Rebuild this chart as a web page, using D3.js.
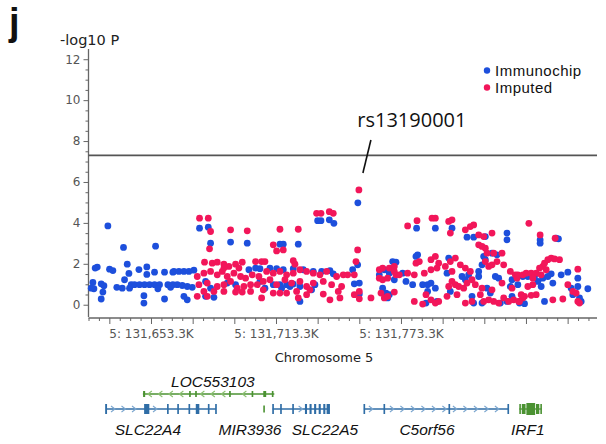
<!DOCTYPE html>
<html>
<head>
<meta charset="utf-8">
<script src="https://d3js.org/d3.v7.min.js"></script>
<style>
  body { margin: 0; background: #fff; }
  svg { display: block; }
</style>
</head>
<body>
<div id="winArea"></div>
<script>
// -log10 P values along chromosome 5 (positions in kb)
const immunochip = [
  [131632.6,3.85],[131640.1,2.80],[131655.5,2.86],[131627.5,1.84],[131626.5,1.79],[131633.4,1.74],[131635.0,1.67],[131641.9,1.98],
  [131642.7,1.53],[131647.5,1.72],[131651.3,1.85],[131651.3,1.48],[131655.0,1.59],[131659.8,1.59],[131663.8,1.59],[131625.4,1.09],
  [131629.4,1.02],[131630.7,0.93],[131625.9,0.78],[131624.6,0.81],[131630.2,0.62],[131629.4,0.28],[131636.9,0.85],[131639.5,0.81],
  [131640.6,1.22],[131643.0,0.81],[131643.8,0.98],[131645.4,0.98],[131647.8,0.98],[131650.2,0.98],[131652.6,0.98],[131655.0,0.98],
  [131657.4,0.98],[131656.6,0.78],[131649.9,0.44],[131649.9,0.08],[131659.8,0.28],[131661.4,0.98],[131662.7,0.85],[131663.8,0.98],
  [131676.6,3.74],[131680.8,3.79],[131681.9,3.01],[131691.5,3.06],[131699.5,3.01],[131664.3,1.63],[131666.7,1.63],[131669.1,1.63],
  [131671.5,1.63],[131673.9,1.69],[131665.9,0.98],[131668.3,0.94],[131670.7,0.89],[131673.1,0.85],[131670.7,0.24],[131669.1,0.41],
  [131679.5,0.41],[131683.5,0.36],[131689.9,1.06],[131700.3,1.71],[131703.5,1.79],[131679.5,1.14],[131693.9,0.98],[131681.9,0.81],
  [131733.3,4.11],[131734.9,4.11],[131738.9,4.15],[131741.1,3.98],[131715.2,2.96],[131716.8,2.96],[131724.0,2.96],[131705.6,1.76],
  [131710.4,1.79],[131713.6,1.76],[131716.8,1.71],[131721.6,1.76],[131726.4,1.71],[131731.2,1.63],[131735.2,1.63],[131739.2,1.67],
  [131740.8,1.51],[131715.2,0.98],[131718.4,0.98],[131720.0,0.89],[131721.6,1.01],[131724.8,0.89],[131716.0,0.81],[131712.0,0.98],
  [131732.0,0.98],[131730.4,0.73],[131724.8,0.16],[131705.6,1.14],[131708.0,0.81],
  [131752.6,4.98],[131752.5,1.95],[131750.1,1.71],[131750.9,1.02],[131753.3,1.06],[131753.3,0.52],[131780.8,3.74],[131762.9,1.46],
  [131765.3,1.71],[131769.3,2.11],[131770.9,2.08],[131774.1,1.54],[131775.7,1.14],[131778.9,0.98],[131780.5,2.36],[131781.3,2.44],
  [131783.7,0.98],[131786.1,0.98],[131787.7,1.06],[131767.7,1.54],[131770.1,1.22],[131764.5,0.81],[131766.1,0.57],[131766.9,0.33],
  [131767.7,0.49],[131785.3,0.08],[131786.1,0.65],
  [131789.8,3.74],[131797.8,3.74],[131805.0,3.30],[131808.2,3.30],[131813.8,3.33],[131824.2,3.50],[131824.2,3.17],[131813.0,2.36],
  [131813.8,2.20],[131817.0,2.52],[131819.4,2.44],[131812.2,1.95],[131796.2,2.28],[131795.4,1.54],[131802.6,1.38],[131804.2,1.22],
  [131805.8,1.46],[131818.6,1.38],[131820.2,1.30],[131810.6,1.38],[131810.6,1.63],[131826.6,1.22],[131825.8,0.89],[131789.8,0.81],
  [131797.0,0.65],[131814.6,0.81],[131816.2,0.57],[131807.4,0.41],[131826.6,0.41],[131824.2,0.16],[131790.6,0.16],[131812.2,0.08],
  [131808.2,0.08],[131821.0,0.08],
  [131840.1,3.17],[131840.1,3.01],[131847.8,3.25],[131848.9,3.22],[131829.4,0.98],[131831.8,1.38],[131834.2,1.38],[131837.4,1.38],
  [131839.0,1.14],[131841.4,1.30],[131843.8,1.38],[131845.4,1.51],[131850.2,1.46],[131853.4,1.59],[131858.2,1.30],[131846.2,1.06],
  [131858.2,0.89],[131863.0,0.78],[131855.0,0.81],[131855.8,0.49],[131859.0,0.33],[131859.8,0.16],[131830.2,0.08],[131832.6,0.05],
  [131842.2,0.16],[131840.6,0.89]
];

const imputed = [
  [131676.6,4.23],[131680.8,4.23],[131681.9,3.58],[131691.5,3.66],[131699.5,3.61],[131681.4,2.73],[131679.0,2.08],[131682.7,2.03],
  [131685.1,2.08],[131688.3,1.98],[131690.7,1.87],[131693.9,1.98],[131697.1,2.08],[131703.5,2.11],[131675.5,1.38],[131678.7,1.54],
  [131681.9,1.63],[131685.1,1.46],[131687.5,1.63],[131689.9,1.38],[131693.1,1.54],[131696.3,1.38],[131698.7,1.30],[131701.9,1.46],
  [131705.1,1.38],[131676.3,0.98],[131680.3,1.06],[131685.1,0.89],[131688.3,0.98],[131691.5,1.14],[131694.7,0.81],[131697.9,0.89],
  [131701.1,0.98],[131704.3,0.98],[131678.7,0.65],[131683.5,0.65],[131688.3,0.65],[131693.9,0.62],[131697.1,0.62],[131675.5,0.41],
  [131680.3,0.41],[131701.1,0.65],[131688.3,1.79],[131695.5,1.79],
  [131732.8,4.47],[131734.9,4.47],[131738.9,4.55],[131740.8,4.47],[131715.2,3.69],[131724.0,3.69],[131712.0,2.93],[131713.6,2.63],
  [131716.8,2.68],[131706.4,2.11],[131708.0,2.11],[131721.6,2.15],[131722.4,1.98],[131708.8,1.63],[131712.0,1.54],[131715.2,1.63],
  [131718.4,1.46],[131721.6,1.54],[131724.8,1.71],[131728.0,1.63],[131731.2,1.54],[131734.4,1.46],[131737.6,1.63],[131742.4,1.38],
  [131745.6,1.46],[131707.2,1.14],[131710.4,1.22],[131713.6,0.98],[131717.6,1.22],[131720.8,1.06],[131724.8,1.14],[131728.0,0.89],
  [131731.2,1.06],[131736.0,1.14],[131740.0,0.98],[131744.8,0.89],[131707.2,0.73],[131712.0,0.57],[131715.2,0.57],[131718.4,0.57],
  [131723.2,0.65],[131728.0,0.49],[131729.6,0.73],[131736.0,0.52],[131739.2,0.24],[131744.0,0.33],[131743.2,0.65],[131706.4,0.33],
  [131724.0,0.33],
  [131753.1,5.61],[131752.5,2.68],[131751.7,2.11],[131747.7,1.46],[131750.9,1.46],[131753.3,0.65],[131750.9,0.49],[131753.3,0.29],
  [131758.9,0.33],[131781.0,4.11],[131776.5,3.85],[131788.2,4.23],[131762.9,1.71],[131764.5,1.79],[131767.7,1.79],[131770.1,1.87],
  [131770.1,1.63],[131770.9,1.46],[131762.9,1.30],[131764.5,1.22],[131766.9,1.30],[131772.5,1.46],[131776.5,1.54],[131780.5,2.03],
  [131782.1,2.11],[131779.7,1.46],[131784.5,1.54],[131787.7,2.20],[131787.7,1.71],[131763.7,0.57],[131765.3,0.33],[131766.9,0.41],
  [131770.1,0.62],[131779.7,0.16],[131785.3,0.49],[131787.7,0.24],[131783.7,0.03],
  [131789.8,4.23],[131796.2,4.07],[131797.8,4.15],[131797.0,3.50],[131804.2,3.66],[131806.6,3.82],[131808.2,3.90],[131810.6,3.41],
  [131813.0,3.33],[131817.0,3.50],[131810.6,2.93],[131812.2,2.85],[131813.8,2.76],[131814.6,2.52],[131817.8,2.52],[131821.8,2.52],
  [131789.8,2.36],[131791.4,2.03],[131797.0,2.11],[131794.6,1.87],[131799.4,2.28],[131801.8,1.95],[131804.2,1.79],[131806.6,1.63],
  [131813.8,2.11],[131815.4,1.87],[131817.0,1.95],[131819.4,2.11],[131822.6,1.95],[131825.8,1.63],[131828.2,1.46],[131829.0,1.30],
  [131790.6,1.79],[131797.8,1.63],[131797.8,1.14],[131799.4,0.98],[131801.0,0.89],[131803.4,0.81],[131805.0,1.06],[131807.4,1.22],
  [131796.2,0.89],[131795.4,0.41],[131800.2,0.49],[131804.2,0.08],[131807.4,0.16],[131811.4,0.49],[131813.0,0.16],[131815.4,0.24],
  [131817.8,0.16],[131820.2,0.08],[131822.6,0.33],[131825.0,0.16],[131827.4,0.24],[131829.8,0.16],[131791.4,0.16],[131789.8,0.08],
  [131809.0,0.98],[131812.2,0.81],[131817.0,0.73],[131821.8,1.06],[131826.6,0.81],
  [131834.7,3.98],[131840.1,3.41],[131847.3,3.25],[131841.4,1.87],[131842.2,2.03],[131843.8,2.20],[131845.4,2.28],[131847.0,2.24],
  [131849.4,2.20],[131843.0,1.71],[131839.8,1.79],[131829.4,1.46],[131831.8,1.46],[131833.4,1.54],[131835.8,1.54],[131838.2,1.54],
  [131840.6,1.46],[131836.6,1.30],[131858.2,1.74],[131857.4,0.57],[131855.8,0.65],[131853.4,0.98],[131836.6,0.98],[131834.2,0.89],
  [131838.2,0.49],[131835.8,0.46],[131832.6,0.41],[131831.0,0.49],[131831.8,0.33],[131846.2,0.24],[131851.0,0.28],[131858.2,0.16],
  [131859.0,0.08],[131830.2,0.16]
];

const seriesNames = ["Immunochip", "Imputed"];
const gwThreshold = 7.3;
const topSnp = { name: "rs13190001", pos: 131753.1, logp: 5.61 };

// axis ticks (kb)
const xMajorTicks = [131633.3,131653.3,131673.3,131693.3,131713.3,131733.3,131753.3,131773.3,131793.3,131813.3,131833.3,131853.3];
const xLabelTicks = [131653.3, 131713.3, 131773.3];
const yMajorTicks = [0, 2, 4, 6, 8, 10, 12];

// gene track
const geneNames  = ["SLC22A4", "LOC553103", "MIR3936", "SLC22A5", "C5orf56", "IRF1"];
const geneType   = ["coding", "noncoding", "noncoding", "coding", "coding", "noncoding"];
const geneRow    = [1, 0, 1, 1, 1, 1];
const geneStrand = ["+", "-", "+", "+", "+", "+"];
const geneStart  = [131631.7, 131649.4, 131707.2, 131711.7, 131755.5, 131830.1];
const geneEnd    = [131684.5, 131712.5, 131707.8, 131738.9, 131824.8, 131840.9];
const geneLabelPos = [131651.8, 131683.0, 131700.8, 131736.8, 131785.8, 131834.2];
const geneExons = [
  [[131631.3,131632.2],[131650.0,131652.5],[131661.0,131661.8],[131665.9,131666.7],[131671.3,131672.1],[131674.8,131676.5],[131680.6,131681.4],[131684.1,131684.9]],
  [[131649.5,131650.5],[131671.6,131672.4],[131674.5,131675.3],[131690.8,131691.6],[131701.6,131702.4],[131707.2,131708.6],[131711.3,131712.1]],
  [[131707.2,131707.9]],
  [[131711.5,131712.3],[131715.3,131716.1],[131721.1,131721.9],[131727.2,131728.2],[131729.4,131730.4],[131731.6,131732.6],[131733.8,131734.8],[131736.0,131737.0],[131737.6,131739.2]],
  [[131755.3,131756.1],[131764.9,131765.7],[131796.1,131796.9],[131824.4,131825.2]],
  [[131830.1,131830.8],[131831.3,131833.1],[131833.5,131837.7],[131838.1,131839.7],[131840.2,131840.9]]
];

drawChart();

function drawChart() {
  const W = 606, H = 444;
  const plot = { left: 88.5, right: 597, top: 49, bottom: 317 };
  const axisFont = "DejaVu Sans, Verdana, sans-serif";

  const svg = d3.select("#winArea")
    .append("svg")
    .attr("width", W)
    .attr("height", H);

  const xScale = d3.scaleLinear()
    .domain([131623.3, 131867.4])
    .range([plot.left, plot.right]);

  const yScale = d3.scaleLinear()
    .domain([-0.6, 12.5])
    .range([plot.bottom, plot.top]);

  const cScale = d3.scaleOrdinal()
    .domain(seriesNames)
    .range(["#1d4fdc", "#f2165a"]);

  // panel letter
  svg.append("text")
    .attr("x", 9).attr("y", 35)
    .style("font-family", "Liberation Sans, Arial, sans-serif")
    .style("font-weight", "bold")
    .style("font-size", "38px")
    .style("fill", "#111")
    .text("j");

  // y axis title
  svg.append("text")
    .attr("x", 60).attr("y", 45)
    .style("font-family", axisFont)
    .style("font-size", "14.5px")
    .style("fill", "#222")
    .text("-log10 P");

  // y axis: major ticks with labels, minor ticks every 0.5
  const yAxis = svg.append("g")
    .attr("transform", `translate(${plot.left},0)`)
    .call(d3.axisLeft(yScale).tickValues(yMajorTicks).tickSize(5).tickPadding(3).tickFormat(d3.format("d")));
  const yMinor = d3.range(0.5, 12.5, 0.5).filter(v => v % 2 !== 0);
  svg.append("g")
    .attr("transform", `translate(${plot.left},0)`)
    .call(d3.axisLeft(yScale).tickValues(yMinor).tickSize(3).tickFormat(""))
    .select(".domain").remove();
  yAxis.select(".domain").attr("d", `M0,${plot.top}V${plot.bottom}`);

  // x axis
  const xAxis = svg.append("g")
    .attr("transform", `translate(0,${plot.bottom + 1})`)
    .call(d3.axisBottom(xScale).tickValues(xMajorTicks).tickSize(6).tickPadding(5)
      .tickFormat(d => xLabelTicks.some(t => Math.abs(t - d) < 0.01) ? "5: " + d3.format(",.1f")(d) + "K" : ""));
  const xMinor = d3.range(131623.3, 131867.4, 5).filter(v => !xMajorTicks.some(t => Math.abs(t - v) < 0.01));
  svg.append("g")
    .attr("transform", `translate(0,${plot.bottom + 1})`)
    .call(d3.axisBottom(xScale).tickValues(xMinor).tickSize(3).tickFormat(""))
    .select(".domain").remove();
  xAxis.select(".domain").attr("d", `M${plot.left},0H${plot.right}`);

  svg.selectAll(".domain").attr("stroke", "#666").attr("stroke-width", 1.3);
  svg.selectAll(".tick line").attr("stroke", "#666");
  svg.selectAll(".tick text")
    .style("font-family", axisFont)
    .style("font-size", "12px")
    .style("fill", "#555");

  // x axis title
  svg.append("text")
    .attr("x", 324).attr("y", 362)
    .attr("text-anchor", "middle")
    .style("font-family", axisFont)
    .style("font-size", "13px")
    .style("fill", "#222")
    .text("Chromosome 5");

  // genome-wide threshold
  svg.append("line")
    .attr("x1", plot.left).attr("x2", plot.right)
    .attr("y1", yScale(gwThreshold)).attr("y2", yScale(gwThreshold))
    .attr("stroke", "#555")
    .attr("stroke-width", 1.6);

  // points: immunochip first, imputed on top
  svg.append("g").selectAll("circle")
    .data(immunochip)
    .join("circle")
    .attr("cx", d => xScale(d[0]))
    .attr("cy", d => yScale(d[1]))
    .attr("r", 3.4)
    .attr("fill", cScale("Immunochip"));

  svg.append("g").selectAll("circle")
    .data(imputed)
    .join("circle")
    .attr("cx", d => xScale(d[0]))
    .attr("cy", d => yScale(d[1]))
    .attr("r", 3.4)
    .attr("fill", cScale("Imputed"));

  // top SNP annotation
  const sx = xScale(topSnp.pos), sy = yScale(topSnp.logp);
  svg.append("line")
    .attr("x1", sx + 4).attr("y1", sy - 17)
    .attr("x2", sx + 12).attr("y2", sy - 50)
    .attr("stroke", "#111")
    .attr("stroke-width", 1.6);
  svg.append("text")
    .attr("x", sx + 53).attr("y", sy - 63)
    .attr("text-anchor", "middle")
    .style("font-family", "Open Sans, Liberation Sans, sans-serif")
    .style("font-size", "20px")
    .style("fill", "#111")
    .text(topSnp.name);

  // legend
  const legend = svg.append("g")
    .attr("transform", "translate(487,70.5)");
  const item = legend.selectAll("g")
    .data(seriesNames)
    .join("g")
    .attr("transform", (d, i) => `translate(0,${i * 17})`);
  item.append("circle")
    .attr("r", 3.2)
    .attr("fill", cScale);
  item.append("text")
    .attr("x", 8).attr("y", 5.5)
    .style("font-family", "Liberation Sans, Arial, sans-serif")
    .style("font-size", "15px")
    .style("letter-spacing", "0.5px")
    .style("fill", "#111")
    .text(d => d);

  // gene track
  const rowY = [394, 409];
  const gColor = d3.scaleOrdinal().domain(["coding", "noncoding"]).range(["#2f6da6", "#4b9232"]);
  const gLight = d3.scaleOrdinal().domain(["coding", "noncoding"]).range(["#7ba6cf", "#8cc070"]);
  const track = svg.append("g");

  geneNames.forEach((name, i) => {
    const y = rowY[geneRow[i]];
    const col = gColor(geneType[i]);
    const light = gLight(geneType[i]);
    const x1 = xScale(geneStart[i]), x2 = xScale(geneEnd[i]);
    const exH = geneRow[i] === 0 ? 6 : (name === "MIR3936" ? 7 : 10);

    if (x2 - x1 > 3) {
      track.append("line")
        .attr("x1", x1).attr("x2", x2)
        .attr("y1", y).attr("y2", y)
        .attr("stroke", col)
        .attr("stroke-width", 1.3);

      // strand chevrons in gaps between exons
      const ex = geneExons[i].map(e => [xScale(e[0]), xScale(e[1])]);
      const dir = geneStrand[i] === "+" ? 1 : -1;
      for (let cx = x1 + 7; cx < x2 - 4; cx += 10.5) {
        if (ex.some(e => cx > e[0] - 4 && cx < e[1] + 4)) continue;
        track.append("path")
          .attr("d", `M${cx - 2 * dir},${y - 3}L${cx + 2 * dir},${y}L${cx - 2 * dir},${y + 3}`)
          .attr("fill", "none")
          .attr("stroke", light)
          .attr("stroke-width", 1.1);
      }
    }

    track.selectAll(null)
      .data(geneExons[i])
      .join("rect")
      .attr("x", d => xScale(d[0]))
      .attr("width", d => Math.max(1.6, xScale(d[1]) - xScale(d[0])))
      .attr("y", (d, j) => y - (name === "IRF1" && j === 2 ? exH / 2 + 1 : exH / 2))
      .attr("height", (d, j) => name === "IRF1" && j === 2 ? exH + 2 : exH)
      .attr("fill", col);

    track.append("text")
      .attr("x", xScale(geneLabelPos[i]))
      .attr("y", geneRow[i] === 0 ? 387 : 435)
      .attr("text-anchor", "middle")
      .style("font-family", "Liberation Sans, Arial, sans-serif")
      .style("font-style", "italic")
      .style("font-size", "15.5px")
      .style("fill", "#111")
      .text(name);
  });
}
</script>
</body>
</html>
